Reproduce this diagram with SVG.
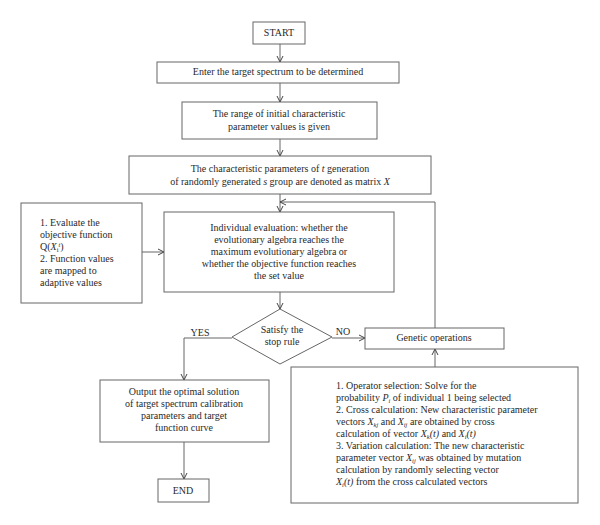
<svg xmlns="http://www.w3.org/2000/svg" width="600" height="525" viewBox="0 0 600 525">
<style>
.box{fill:#fff;stroke:#666;stroke-width:1}
.ln{fill:none;stroke:#666;stroke-width:1}
text{font-family:"Liberation Serif","Times New Roman",serif;font-size:10px;fill:#2a2a2a}
.c{text-anchor:middle}
.i{font-style:italic}
.s{font-size:6.5px}
</style>
<defs>
<marker id="ah" viewBox="0 0 8 8" refX="7" refY="4" markerWidth="8" markerHeight="8" markerUnits="userSpaceOnUse" orient="auto">
<polyline points="1,1 7,4 1,7" fill="none" stroke="#444" stroke-width="1"/>
</marker>
</defs>
<rect width="600" height="525" fill="#fff"/>
<g id="connectors">
<line class="ln" x1="280" y1="44" x2="280" y2="62" marker-end="url(#ah)"/>
<line class="ln" x1="280" y1="83" x2="280" y2="102" marker-end="url(#ah)"/>
<line class="ln" x1="280" y1="139" x2="280" y2="156" marker-end="url(#ah)"/>
<line class="ln" x1="280" y1="194" x2="280" y2="212" marker-end="url(#ah)"/>
<polyline class="ln" points="435,328 435,202 280,202" marker-end="url(#ah)"/>
<line class="ln" x1="142" y1="252" x2="164" y2="252" marker-end="url(#ah)"/>
<line class="ln" x1="280" y1="292" x2="280" y2="309" marker-end="url(#ah)"/>
<polyline class="ln" points="232,338 184,338 184,380" marker-end="url(#ah)"/>
<line class="ln" x1="332" y1="338" x2="365" y2="338" marker-end="url(#ah)"/>
<line class="ln" x1="435" y1="367" x2="435" y2="349" marker-end="url(#ah)"/>
<line class="ln" x1="184" y1="442" x2="184" y2="479" marker-end="url(#ah)"/>
<text class="c" x="200" y="336">YES</text>
<text class="c" x="343" y="335">NO</text>
</g>
<g id="start">
<rect class="box" x="253" y="22" width="52" height="22"/>
<text class="c" x="279" y="36">START</text>
</g>
<g id="enter">
<rect class="box" x="157" y="62" width="242" height="21"/>
<text class="c" x="278" y="75">Enter the target spectrum to be determined</text>
</g>
<g id="range">
<rect class="box" x="182" y="102" width="195" height="37"/>
<text class="c" x="279" y="117">The range of initial characteristic</text>
<text class="c" x="279" y="130">parameter values is given</text>
</g>
<g id="matrix">
<rect class="box" x="129" y="156" width="302" height="38"/>
<text class="c" x="280" y="172">The characteristic parameters of <tspan class="i">t</tspan> generation</text>
<text class="c" x="280" y="185">of randomly generated <tspan class="i">s</tspan> group are denoted as matrix <tspan class="i">X</tspan></text>
</g>
<g id="evaluate">
<rect class="box" x="21" y="203" width="121" height="100"/>
<text x="40" y="226">1. Evaluate the</text>
<text x="40" y="238">objective function</text>
<text x="40" y="250">Q(<tspan class="i">X</tspan><tspan class="s" dy="1.5">i</tspan><tspan class="s i" dy="-5">t</tspan><tspan dy="3.5">)</tspan></text>
<text x="40" y="262">2. Function values</text>
<text x="40" y="274">are mapped to</text>
<text x="40" y="286">adaptive values</text>
</g>
<g id="individual">
<rect class="box" x="164" y="212" width="230" height="80"/>
<text class="c" x="279" y="231">Individual evaluation: whether the</text>
<text class="c" x="279" y="243">evolutionary algebra reaches the</text>
<text class="c" x="279" y="255">maximum evolutionary algebra or</text>
<text class="c" x="279" y="267">whether the objective function reaches</text>
<text class="c" x="279" y="279">the set value</text>
</g>
<g id="decision">
<polygon class="box" points="280,309 332,337 280,364 232,337"/>
<text class="c" x="282" y="333">Satisfy the</text>
<text class="c" x="282" y="345">stop rule</text>
</g>
<g id="genetic">
<rect class="box" x="365" y="328" width="139" height="21"/>
<text class="c" x="434" y="341">Genetic operations</text>
</g>
<g id="output">
<rect class="box" x="100" y="380" width="169" height="62"/>
<text class="c" x="184" y="395">Output the optimal solution</text>
<text class="c" x="184" y="407">of target spectrum calibration</text>
<text class="c" x="184" y="419">parameters and target</text>
<text class="c" x="184" y="431">function curve</text>
</g>
<g id="end">
<rect class="box" x="158" y="479" width="51" height="23"/>
<text class="c" x="183" y="494">END</text>
</g>
<g id="operations">
<rect class="box" x="291" y="367" width="287" height="136"/>
<text x="336" y="389">1. Operator selection: Solve for the</text>
<text x="336" y="401">probability <tspan class="i">P</tspan><tspan class="s i" dy="1.5">i</tspan><tspan dy="-1.5"> of individual 1 being selected</tspan></text>
<text x="336" y="413">2. Cross calculation: New characteristic parameter</text>
<text x="336" y="425">vectors <tspan class="i">X</tspan><tspan class="s i" dy="1.5">kj</tspan><tspan dy="-1.5"> and </tspan><tspan class="i">X</tspan><tspan class="s i" dy="1.5">ij</tspan><tspan dy="-1.5"> are obtained by cross</tspan></text>
<text x="336" y="437">calculation of vector <tspan class="i">X</tspan><tspan class="s i" dy="1.5">k</tspan><tspan class="i" dy="-1.5">(t)</tspan> and <tspan class="i">X</tspan><tspan class="s i" dy="1.5">i</tspan><tspan class="i" dy="-1.5">(t)</tspan></text>
<text x="336" y="449">3. Variation calculation: The new characteristic</text>
<text x="336" y="461">parameter vector <tspan class="i">X</tspan><tspan class="s i" dy="1.5">ij</tspan><tspan dy="-1.5"> was obtained by mutation</tspan></text>
<text x="336" y="473">calculation by randomly selecting vector</text>
<text x="336" y="485"><tspan class="i">X</tspan><tspan class="s i" dy="1.5">i</tspan><tspan class="i" dy="-1.5">(t)</tspan> from the cross calculated vectors</text>
</g>
</svg>
